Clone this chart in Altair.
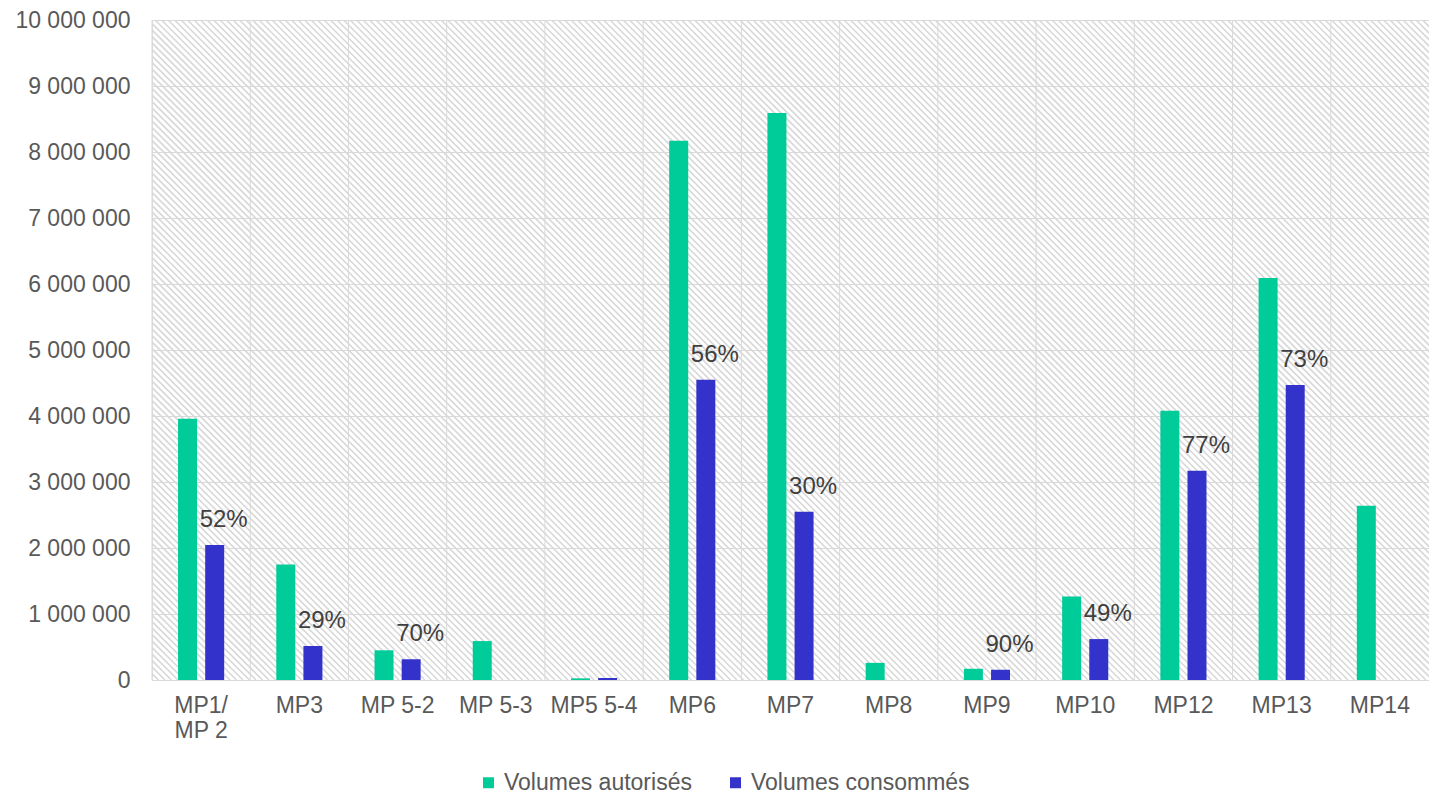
import altair as alt
import pandas as pd
import numpy as np

categories = ["MP1/ MP 2", "MP3", "MP 5-2", "MP 5-3", "MP5 5-4", "MP6", "MP7",
              "MP8", "MP9", "MP10", "MP12", "MP13", "MP14"]
volumes_autorises = [3960000, 1750000, 450000, 590000, 25000, 8170000, 8590000,
                     260000, 170000, 1265000, 4080000, 6090000, 2640000]
volumes_consommes = [2045000, 515000, 315000, None, 30000, 4550000, 2550000,
                     None, 155000, 620000, 3170000, 4470000, None]
taux = ["52%", "29%", "70%", "", "", "56%", "30%", "", "90%", "49%", "77%", "73%", ""]
series = ["Volumes autorisés", "Volumes consommés"]
colors = ["#00CC99", "#3333CC"]
y_ticks = [0, 1000000, 2000000, 3000000, 4000000, 5000000, 6000000, 7000000,
           8000000, 9000000, 10000000]

FONT = "Liberation Sans"
TXT = "#595959"
GRID = "#d9d9d9"
W, H = 1277, 660

rows = []
for c, a, b, t in zip(categories, volumes_autorises, volumes_consommes, taux):
    rows.append(dict(cat=c, serie=series[0], val=a, label=""))
    if b is not None:
        rows.append(dict(cat=c, serie=series[1], val=b, label=t))
df = pd.DataFrame(rows)
cat_df = pd.DataFrame({"cat": categories})

# background hatch (decoration)
offs = np.arange(-H, W, 6.5)
hatch_df = pd.DataFrame({"x": offs, "x2": offs + H, "y": H, "y2": 0})
hatch = alt.Chart(hatch_df).mark_rule(clip=True, color="#d9d9d9", strokeWidth=1.6).encode(
    x=alt.X("x:Q", scale=alt.Scale(domain=[0, W], nice=False, zero=False), axis=None),
    x2="x2:Q",
    y=alt.Y("y:Q", scale=alt.Scale(domain=[0, H], nice=False, zero=False), axis=None),
    y2="y2:Q",
)

x_scale = alt.Scale(domain=categories, paddingInner=0, paddingOuter=0)
x_axis = alt.Axis(
    title=None, labelAngle=0, grid=False, ticks=False, domain=False,
    labelFontSize=23, labelColor=TXT, labelFont=FONT, labelPadding=14,
    labelLineHeight=25,
    labelExpr="datum.label == 'MP1/ MP 2' ? ['MP1/', 'MP 2'] : datum.label",
)
y_scale = alt.Scale(domain=[0, 10000000], nice=False)
y_axis = alt.Axis(
    title=None, values=y_ticks, grid=True, gridColor=GRID, gridWidth=1,
    ticks=False, domain=False, labelFontSize=23, labelColor=TXT, labelFont=FONT,
    labelPadding=22,
    labelExpr="replace(format(datum.value, ','), regexp(',', 'g'), ' ')",
)
xoff_scale = alt.Scale(domain=series, paddingInner=0.3, paddingOuter=0.96)

vgrid = alt.Chart(cat_df).mark_rule(color=GRID, strokeWidth=1).encode(
    x=alt.X("cat:N", sort=categories, scale=x_scale, axis=x_axis, bandPosition=0),
)

bars = alt.Chart(df).mark_bar().encode(
    x=alt.X("cat:N", sort=categories, scale=x_scale, axis=x_axis),
    xOffset=alt.XOffset("serie:N", scale=xoff_scale, sort=series),
    y=alt.Y("val:Q", scale=y_scale, axis=y_axis),
    color=alt.Color(
        "serie:N",
        scale=alt.Scale(domain=series, range=colors),
        legend=alt.Legend(
            orient="none", legendX=325, legendY=751, direction="horizontal",
            title=None, symbolType="square", symbolSize=121, symbolStrokeWidth=0,
            labelFontSize=23, labelFont=FONT, labelColor=TXT, columnPadding=32,
            labelOffset=4, labelLimit=500,
        ),
    ),
)

text = alt.Chart(df).transform_filter("datum.label != ''").mark_text(
    baseline="bottom", dx=9, dy=-13, fontSize=24, font=FONT, color="#404040"
).encode(
    x=alt.X("cat:N", sort=categories, scale=x_scale, axis=x_axis),
    xOffset=alt.XOffset("serie:N", scale=xoff_scale, sort=series),
    y=alt.Y("val:Q", scale=y_scale, axis=y_axis),
    text="label:N",
)

main = alt.layer(vgrid, bars, text)

chart = alt.layer(hatch, main).resolve_scale(x="independent", y="independent").properties(
    width=W, height=H,
    autosize=alt.AutoSizeParams(type="none"),
    padding={"left": 144, "top": 12, "right": 0, "bottom": 117},
).configure_view(stroke=GRID, strokeWidth=1).configure(background="white")

chart.save("out.html", embed_options={"renderer": "svg", "actions": False})
